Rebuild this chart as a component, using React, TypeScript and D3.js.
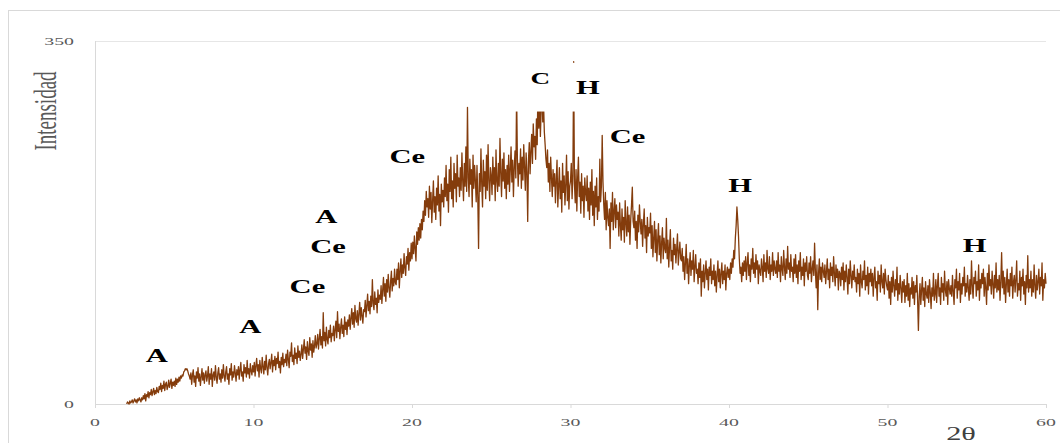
import React from 'react';
import * as d3 from 'd3';

// Diffractogram: intensity sampled every 0.05° of 2θ starting at 2.00°
const START = 2.0;
const STEP = 0.05;
const intensity: number[] = [
  // 2°
  0, 2, 1, 0, 3, 1, 2, 4, 1, 3, 5, 2, 4, 1, 5, 3, 6, 4, 2, 6,
  // 3°
  4, 8, 5, 10, 3, 9, 7, 12, 6, 11, 9, 14, 8, 12, 15, 9, 13, 10, 16, 12,
  // 4°
  11, 17, 14, 20, 12, 18, 15, 22, 13, 19, 21, 14, 17, 23, 16, 20, 24, 15, 21, 18,
  // 5°
  22, 17, 25, 19, 24, 21, 26, 22, 27, 25, 28, 27, 31, 32, 34, 33, 34, 32, 29, 27,
  // 6°
  24, 30, 19, 28, 33, 21, 27, 17, 31, 25, 35, 22, 29, 18, 26, 34, 23, 30, 20, 28,
  // 7°
  32, 22, 27, 36, 19, 29, 24, 34, 17, 28, 31, 23, 37, 26, 20, 30, 35, 24, 29, 21,
  // 8°
  33, 25, 38, 27, 22, 31, 36, 24, 29, 19, 34, 28, 39, 23, 31, 26, 37, 30, 22, 33,
  // 9°
  28, 36, 24, 33, 40, 27, 31, 22, 38, 30, 35, 26, 42, 29, 34, 25, 39, 32, 28, 37,
  // 10°
  31, 40, 27, 37, 44, 32, 38, 26, 42, 34, 30, 45, 36, 29, 41, 33, 47, 35, 28, 39,
  // 11°
  43, 34, 40, 48, 31, 42, 37, 46, 33, 44, 39, 50, 35, 41, 30, 45, 38, 49, 36, 43,
  // 12°
  40, 48, 37, 52, 43, 35, 50, 46, 59, 41, 47, 38, 54, 44, 49, 39, 56, 45, 51, 42,
  // 13°
  48, 57, 44, 53, 62, 49, 55, 43, 60, 51, 47, 64, 52, 58, 45, 61, 50, 56, 66, 54,
  // 14°
  58, 67, 53, 63, 72, 57, 65, 54, 88, 61, 69, 56, 74, 62, 58, 71, 64, 76, 60, 68,
  // 15°
  66, 75, 61, 72, 80, 64, 89, 70, 77, 63, 74, 82, 68, 76, 65, 84, 72, 79, 67, 81,
  // 16°
  75, 86, 72, 83, 92, 77, 88, 74, 95, 82, 79, 90, 76, 87, 98, 81, 93, 85, 78, 91,
  // 17°
  89, 100, 84, 95, 106, 90, 99, 87, 104, 94, 120, 97, 91, 108, 96, 102, 88, 110, 98, 105,
  // 18°
  101, 114, 97, 110, 122, 104, 116, 99, 120, 108, 125, 112, 103, 118, 128, 109, 121, 114, 130, 117,
  // 19°
  115, 130, 120, 136, 112, 128, 140, 122, 134, 126, 145, 131, 124, 142, 135, 150, 129, 146, 138, 155,
  // 20°
  140, 156, 145, 162, 150, 138, 166, 154, 170, 158, 174, 160, 178, 168, 186, 176, 196, 182, 205, 190,
  // 21°
  198, 180, 210, 188, 204, 175, 196, 215, 185, 200, 178, 208, 192, 220, 186, 202, 172, 212, 195, 206,
  // 22°
  190, 218, 200, 230, 196, 212, 185, 226, 205, 238, 198, 215, 190, 232, 208, 222, 195, 240, 210, 218,
  // 23°
  200, 228, 206, 242, 215, 196, 232, 210, 248, 205, 286, 218, 200, 236, 212, 226, 190, 240, 208, 230,
  // 24°
  215, 195, 230, 200, 150, 222, 205, 246, 212, 190, 235, 210, 224, 198, 240, 206, 250, 215, 196, 228,
  // 25°
  220, 202, 238, 212, 228, 196, 245, 215, 205, 232, 210, 256, 222, 200, 236, 215, 242, 208, 226, 198,
  // 26°
  230, 212, 240, 205, 226, 248, 214, 235, 200, 228, 244, 218, 300, 236, 210, 232, 222, 246, 208, 238,
  // 27°
  216, 250, 228, 206, 242, 224, 176, 236, 252, 222, 244, 260, 232, 270, 248, 258, 236, 275, 250, 312,
  // 28°
  266, 296, 258, 284, 306, 272, 290, 262, 250, 236, 228, 245, 214, 232, 205, 238, 218, 200, 226, 210,
  // 29°
  222, 194, 216, 235, 190, 210, 228, 198, 215, 185, 232, 204, 220, 192, 212, 240, 196, 224, 188, 210,
  // 30°
  215, 232, 198, 220, 330, 212, 194, 226, 186, 218, 238, 200, 214, 184, 222, 196, 210, 180, 218, 204,
  // 31°
  196, 220, 186, 208, 178, 214, 192, 226, 182, 205, 172, 210, 190, 218, 178, 200, 186, 236, 195, 210,
  // 32°
  259, 214, 192, 178, 204, 168, 196, 180, 172, 188, 150, 194, 176, 204, 168, 186, 198, 170, 192, 178,
  // 33°
  185, 162, 194, 172, 158, 188, 168, 180, 156, 196, 174, 162, 190, 166, 182, 154, 178, 192, 209, 176,
  // 34°
  170, 186, 158, 176, 150, 182, 166, 192, 176, 164, 178, 152, 174, 188, 160, 172, 146, 180, 162, 170,
  // 35°
  165, 184, 150, 172, 142, 160, 176, 146, 168, 138, 158, 174, 144, 162, 136, 156, 170, 140, 160, 150,
  // 36°
  146, 179, 140, 158, 132, 152, 168, 138, 148, 130, 160, 144, 154, 136, 150, 164, 134, 146, 156, 140,
  // 37°
  138, 150, 128, 142, 120, 136, 154, 126, 140, 116, 134, 146, 124, 138, 130, 148, 118, 132, 144, 126,
  // 38°
  130, 116, 136, 122, 140, 104, 128, 118, 134, 112, 126, 138, 120, 130, 110, 132, 124, 140, 116, 128,
  // 39°
  120, 134, 114, 128, 108, 124, 138, 118, 130, 112, 126, 136, 116, 128, 120, 134, 110, 126, 132, 122,
  // 40°
  130, 120, 136, 126, 140, 132, 148, 140, 160, 172, 190, 178, 162, 140, 126, 132, 118, 136, 124, 138,
  // 41°
  128, 142, 120, 136, 146, 124, 134, 118, 140, 130, 150, 126, 136, 122, 144, 130, 138, 116, 134, 128,
  // 42°
  124, 140, 132, 118, 144, 128, 136, 122, 148, 130, 126, 142, 120, 134, 128, 146, 124, 138, 130, 126,
  // 43°
  138, 122, 146, 128, 134, 118, 142, 130, 124, 148, 132, 120, 140, 126, 152, 130, 136, 122, 144, 128,
  // 44°
  132, 118, 140, 126, 144, 122, 134, 116, 138, 128, 146, 120, 132, 124, 140, 114, 136, 128, 142, 124,
  // 45°
  120, 136, 126, 142, 118, 130, 138, 124, 155, 128, 112, 134, 91, 126, 140, 120, 132, 118, 136, 128,
  // 46°
  122, 134, 116, 128, 140, 120, 130, 112, 136, 124, 132, 118, 142, 126, 114, 134, 122, 130, 110, 128,
  // 47°
  126, 114, 132, 120, 136, 110, 128, 118, 134, 122, 106, 130, 116, 138, 124, 112, 128, 120, 134, 118,
  // 48°
  122, 108, 130, 116, 126, 104, 134, 118, 112, 128, 120, 138, 110, 124, 114, 132, 106, 126, 118, 130,
  // 49°
  114, 126, 104, 122, 132, 112, 118, 100, 128, 116, 124, 108, 134, 118, 112, 126, 106, 130, 120, 114,
  // 50°
  110, 124, 102, 118, 96, 122, 108, 128, 114, 104, 120, 110, 132, 100, 116, 106, 124, 112, 98, 118,
  // 51°
  108, 120, 98, 114, 104, 126, 100, 116, 94, 112, 106, 122, 102, 118, 96, 114, 108, 124, 100, 71,
  // 52°
  104, 116, 96, 110, 122, 100, 112, 94, 118, 106, 102, 114, 98, 120, 108, 92, 112, 104, 126, 100,
  // 53°
  106, 120, 98, 114, 126, 104, 112, 96, 122, 108, 116, 100, 128, 110, 104, 118, 96, 120, 112, 106,
  // 54°
  114, 104, 124, 108, 96, 120, 112, 130, 102, 118, 110, 126, 98, 116, 106, 122, 114, 132, 104, 116,
  // 55°
  108, 124, 112, 100, 120, 106, 138, 114, 102, 122, 116, 128, 104, 118, 110, 134, 100, 120, 112, 126,
  // 56°
  116, 130, 104, 122, 112, 96, 126, 110, 134, 114, 120, 106, 128, 116, 102, 124, 112, 136, 108, 120,
  // 57°
  110, 124, 100, 118, 146, 112, 128, 106, 122, 98, 116, 130, 108, 120, 104, 126, 114, 132, 102, 118,
  // 58°
  124, 108, 120, 138, 104, 116, 110, 128, 100, 122, 114, 130, 106, 118, 96, 124, 112, 143, 108, 120,
  // 59°
  112, 128, 104, 120, 108, 134, 114, 102, 124, 110, 118, 130, 106, 122, 114, 136, 100, 120, 112, 126,
  // 60°
  116,
];

const xTicks = [0, 10, 20, 30, 40, 50, 60];
const yTicks = [0, 350];

// Phase markers: text, 2θ position, intensity position (baseline)
const phaseLabels = ['A', 'A', 'Ce', 'Ce', 'A', 'Ce', 'C', 'H', 'Ce', 'H', 'H'];
const phaseX = [3.9, 9.8, 13.4, 14.7, 14.6, 19.7, 28.1, 31.1, 33.6, 40.7, 55.5];
const phaseY = [40.5, 68.5, 107, 146, 175, 232, 309, 299, 252, 204, 147];

const W = 1060;
const H = 443;
const STRETCH = 1.7;

export default function App() {
  const x = d3.scaleLinear().domain([0, 60]).range([95, 1046]);
  const y = d3.scaleLinear().domain([0, 350]).range([404, 41]);

  const points: [number, number][] = intensity.map((v, i) => [START + i * STEP, v]);
  const path = d3
    .line<[number, number]>()
    .x((d) => x(d[0]))
    .y((d) => y(d[1]))(points) as string;

  const serif = '"Liberation Serif", "Times New Roman", serif';

  return (
    <svg
      width={W}
      height={H}
      style={{ position: 'absolute', left: 0, top: 0, background: '#fff' }}
    >
      <rect x={0} y={0} width={W} height={H} fill="#fff" />
      {/* chart area frame */}
      <rect x={8.5} y={10.5} width={W + 20} height={H + 20} fill="none" stroke="#d9d9d9" strokeWidth={1} />

      {/* gridline at top value and axes */}
      <line x1={x(0)} x2={x(60)} y1={y(350) + 0.5} y2={y(350) + 0.5} stroke="#e6e6e6" strokeWidth={1} />
      <line x1={x(0) + 0.5} x2={x(0) + 0.5} y1={y(350)} y2={y(0)} stroke="#d9d9d9" strokeWidth={1} />
      <line x1={x(0)} x2={x(60)} y1={y(0) + 0.5} y2={y(0) + 0.5} stroke="#d9d9d9" strokeWidth={1} />
      {xTicks.map((t) => (
        <line key={'tk' + t} x1={x(t) + 0.5} x2={x(t) + 0.5} y1={y(0)} y2={y(0) + 4} stroke="#d9d9d9" strokeWidth={1} />
      ))}

      {/* tick labels */}
      {xTicks.map((t) => (
        <text
          key={'xl' + t}
          transform={`translate(${x(t)},${426}) scale(1.8,1)`}
          textAnchor="middle"
          fontFamily={serif}
          fontSize={11}
          fill="#595959"
        >
          {t}
        </text>
      ))}
      {yTicks.map((t) => (
        <text
          key={'yl' + t}
          transform={`translate(${74},${y(t) + 4}) scale(1.8,1)`}
          textAnchor="end"
          fontFamily={serif}
          fontSize={11}
          fill="#595959"
        >
          {t}
        </text>
      ))}

      {/* intensity trace */}
      <path d={path} fill="none" stroke="#843C0C" strokeWidth={1.3} strokeLinejoin="round" />

      {/* label box over the strongest reflections */}
      <rect
        x={x(26.35)}
        y={y(329)}
        width={x(30.9) - x(26.35)}
        height={y(282) - y(329)}
        fill="#fff"
      />

      {/* phase labels */}
      {phaseLabels.map((lab, i) => (
        <text
          key={'ph' + i}
          transform={`translate(${x(phaseX[i])},${y(phaseY[i])}) scale(${STRETCH},1)`}
          textAnchor="middle"
          fontFamily={serif}
          fontWeight="bold"
          fontSize={lab === 'C' ? 16 : 18}
          fill="#000"
        >
          {lab}
        </text>
      ))}

      {/* axis titles */}
      <text
        transform={`translate(45,111) scale(${STRETCH},1) rotate(-90)`}
        textAnchor="middle"
        dy="0.35em"
        fontFamily={serif}
        fontSize={19}
        fill="#595959"
      >
        Intensidad
      </text>
      <text
        transform={`translate(961,440) scale(1.6,1)`}
        textAnchor="middle"
        fontFamily={serif}
        fontSize={19}
        fill="#404040"
      >
        2θ
      </text>
    </svg>
  );
}
